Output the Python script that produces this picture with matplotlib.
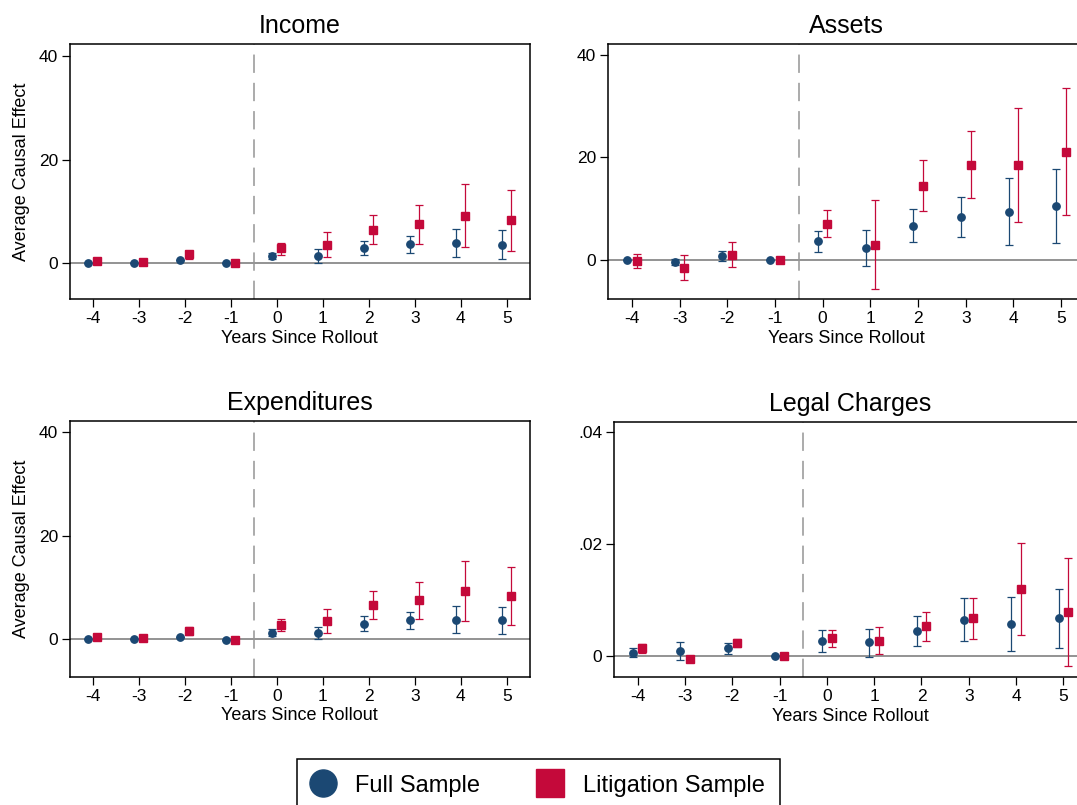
import numpy as np
import matplotlib.pyplot as plt
from matplotlib.lines import Line2D

plt.rcParams['font.family'] = 'Liberation Sans'

years = [-4, -3, -2, -1, 0, 1, 2, 3, 4, 5]

# Income
inc_full = [0.0, 0.1, 0.6, 0.0, 1.35, 1.4, 3.0, 3.65, 3.85, 3.6]
inc_full_lo = [0.0, 0.1, 0.6, 0.0, 0.77, 0.06, 1.54, 1.9, 1.15, 0.9]
inc_full_hi = [0.0, 0.1, 0.6, 0.0, 2.0, 2.7, 4.4, 5.3, 6.6, 6.35]
inc_lit = [0.45, 0.2, 1.8, 0.0, 2.9, 3.5, 6.5, 7.5, 9.2, 8.3]
inc_lit_lo = [0.45, 0.2, 0.9, 0.0, 1.7, 1.2, 3.65, 3.8, 3.2, 2.3]
inc_lit_hi = [0.45, 0.2, 2.3, 0.0, 4.0, 6.0, 9.4, 11.2, 15.3, 14.2]

# Assets
ast_full = [0.0, -0.45, 0.85, 0.0, 3.6, 2.4, 6.6, 8.3, 9.4, 10.6]
ast_full_lo = [0.0, -1.04, -0.2, 0.0, 1.56, -1.1, 3.4, 4.4, 2.9, 3.3]
ast_full_hi = [0.0, 0.13, 1.8, 0.0, 5.6, 5.9, 9.9, 12.2, 15.9, 17.8]
ast_lit = [-0.2, -1.5, 1.0, 0.0, 7.0, 2.9, 14.4, 18.5, 18.5, 21.0]
ast_lit_lo = [-1.6, -4.0, -1.4, 0.0, 4.4, -5.7, 9.5, 12.0, 7.3, 8.8]
ast_lit_hi = [1.1, 1.0, 3.4, 0.0, 9.7, 11.65, 19.5, 25.1, 29.6, 33.5]

# Expenditures
exp_full = [0.0, 0.05, 0.45, -0.1, 1.3, 1.2, 3.0, 3.7, 3.8, 3.7]
exp_full_lo = [0.0, 0.05, 0.45, -0.1, 0.65, 0.0, 1.67, 2.05, 1.15, 1.0]
exp_full_hi = [0.0, 0.05, 0.45, -0.1, 1.9, 2.45, 4.45, 5.3, 6.4, 6.3]
exp_lit = [0.4, 0.2, 1.55, -0.1, 2.8, 3.5, 6.55, 7.5, 9.3, 8.3]
exp_lit_lo = [0.4, 0.2, 0.85, -0.1, 1.67, 1.2, 3.85, 4.0, 3.5, 2.7]
exp_lit_hi = [0.4, 0.2, 2.4, -0.1, 3.85, 5.8, 9.4, 11.1, 15.0, 13.9]

# Legal charges
leg_full = [0.00065, 0.00095, 0.0014, 0.0, 0.0027, 0.0025, 0.00445, 0.00645, 0.00575, 0.00675]
leg_full_lo = [-0.0001, -0.0007, 0.00035, 0.0, 0.0008, -0.00005, 0.00185, 0.0027, 0.001, 0.0014]
leg_full_hi = [0.0015, 0.0026, 0.00245, 0.0, 0.0046, 0.0049, 0.0071, 0.0103, 0.0105, 0.01205]
leg_lit = [0.0014, -0.0005, 0.0023, 0.0, 0.0032, 0.00265, 0.00535, 0.00675, 0.0119, 0.00785]
leg_lit_lo = [0.00055, -0.0005, 0.0016, 0.0, 0.0017, 0.00035, 0.0028, 0.00315, 0.0038, -0.0017]
leg_lit_hi = [0.00225, -0.0005, 0.0031, 0.0, 0.0047, 0.00515, 0.00785, 0.01045, 0.0201, 0.01745]

blue = '#1b4873'
red = '#c4093a'

W, H = 1077, 805
fig = plt.figure(figsize=(W / 100, H / 100), dpi=100)


def px_axes(left, right, top, bottom):
    return fig.add_axes([left / W, 1 - bottom / H, (right - left) / W, (bottom - top) / H])


def panel(ax, title, full, full_lo, full_hi, lit, lit_lo, lit_hi, ylim, yticks, yticklabels, ylabel):
    x = np.array(years, dtype=float)
    ax.axhline(0, color='#8a8a8a', lw=1.3, zorder=1)
    ax.axvline(-0.5, color='#959595', lw=1.1, ls=(0, (12, 6.5)), zorder=1)
    for xs, est, lo, hi, c, m, ms in [(x - 0.1, full, full_lo, full_hi, blue, 'o', 5.3),
                                      (x + 0.1, lit, lit_lo, lit_hi, red, 's', 5.5)]:
        est = np.array(est)
        err = [est - np.array(lo), np.array(hi) - est]
        ax.errorbar(xs, est, yerr=err, fmt=m, color=c, ms=ms, mec=c,
                    elinewidth=0.9, capsize=2.6, capthick=0.9, zorder=3)
    ax.set_xlim(-4.5, 5.5)
    ax.set_ylim(*ylim)
    ax.set_xticks(years)
    ax.set_xticklabels([str(v) for v in years])
    ax.set_yticks(yticks)
    ax.set_yticklabels(yticklabels)
    ax.tick_params(direction='out', length=5.5, width=0.9, labelsize=12.5, pad=3, colors='black')
    for s in ax.spines.values():
        s.set_linewidth(1.1)
        s.set_color('black')
    ax.set_title(title, fontsize=18, pad=8)
    ax.set_xlabel('Years Since Rollout', fontsize=13)
    ax.xaxis.set_label_coords(0.5, -0.12)
    if ylabel:
        ax.set_ylabel('Average Causal Effect', fontsize=13)
        ax.yaxis.set_label_coords(-0.086, 0.5)


ax1 = px_axes(69.7, 529.7, 44.3, 299.3)
ax2 = px_axes(608, 1085, 44.3, 299.3)
ax3 = px_axes(69.7, 529.7, 421, 676.7)
ax4 = px_axes(614, 1087, 421.7, 677)

panel(ax1, 'Income', inc_full, inc_full_lo, inc_full_hi, inc_lit, inc_lit_lo, inc_lit_hi,
      (-6.95, 42.3), [0, 20, 40], ['0', '20', '40'], True)
panel(ax2, 'Assets', ast_full, ast_full_lo, ast_full_hi, ast_lit, ast_lit_lo, ast_lit_hi,
      (-7.7, 42.1), [0, 20, 40], ['0', '20', '40'], False)
panel(ax3, 'Expenditures', exp_full, exp_full_lo, exp_full_hi, exp_lit, exp_lit_lo, exp_lit_hi,
      (-7.2, 42.06), [0, 20, 40], ['0', '20', '40'], True)
panel(ax4, 'Legal Charges', leg_full, leg_full_lo, leg_full_hi, leg_lit, leg_lit_lo, leg_lit_hi,
      (-0.00369, 0.04178), [0, 0.02, 0.04], ['0', '.02', '.04'], False)

handles = [Line2D([], [], ls='', marker='o', ms=19.5, color=blue),
           Line2D([], [], ls='', marker='s', ms=19.5, color=red)]
leg = fig.legend(handles, ['Full Sample', 'Litigation Sample'], loc='upper left',
                 bbox_to_anchor=(297.3 / W, 1 - 759.3 / H), ncol=2, fontsize=17,
                 frameon=True, fancybox=False, edgecolor='black', framealpha=1,
                 borderaxespad=0, borderpad=0.65, handlelength=0.85,
                 handletextpad=0.96, columnspacing=2.54)
leg.get_frame().set_linewidth(1.1)

fig.savefig('out.png', dpi=100)
